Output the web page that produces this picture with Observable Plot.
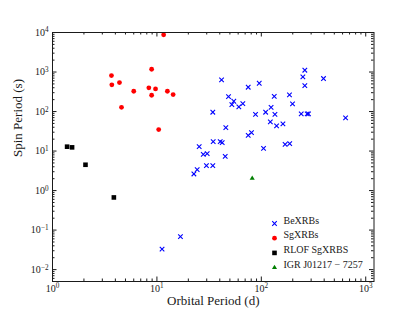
<!DOCTYPE html>
<html><head><meta charset="utf-8">
<script src="https://cdn.jsdelivr.net/npm/d3@7"></script>
<script src="https://cdn.jsdelivr.net/npm/@observablehq/plot@0.6"></script>
<style>body{margin:0;background:#fff} svg{display:block}</style>
</head><body><div id="chart"></div>
<script>
// BeXRBs
const beOrb  = [261, 250, 394, 41.6, 95.5, 261, 74.9, 186, 48.5, 133, 54.5, 52.2, 66.5, 60.9, 199, 124, 34.3, 110, 88, 135, 241, 275, 283, 641, 122, 140, 161, 45.7, 80.5, 74.9, 34.6, 40.4, 42.2, 105, 169, 187, 27.8, 30.3, 45.1, 25.4, 22.6, 24.3, 29.8, 34.3, 16.8, 11.2];
const beSpin = [1110, 754, 684, 632, 520, 454, 412, 264, 239, 242, 182, 150, 159, 131, 156, 128, 96, 96, 85, 85, 87, 87, 87, 69, 54.7, 43.3, 48.6, 39.2, 29.2, 25, 17.3, 17.3, 16.3, 11.7, 14.8, 15.4, 8.26, 8.6, 7.35, 12.9, 2.63, 3.38, 4.27, 4.27, 0.068, 0.033];
// SgXRBs
const sgOrb  = [11.6, 8.9, 3.67, 3.7, 4.38, 6.0, 8.37, 9.7, 8.9, 12.6, 14.3, 4.58, 10.4];
const sgSpin = [8750, 1175, 815, 473, 541, 326, 397, 374, 258, 326, 269, 128, 35];
// RLOF SgXRBs
const rlofOrb  = [1.38, 1.54, 2.07, 3.87];
const rlofSpin = [12.9, 12.4, 4.5, 0.67];
// IGR J01217-7257
const igrOrb  = [81.8];
const igrSpin = [2.04];

const xMajor = [1, 10, 100, 1000];
const yMajor = [0.01, 0.1, 1, 10, 100, 1000, 10000];
const xDomain = [1, 1200];
const yDomain = [0.005, 10000];

const xMinor = [];
for (let k = 0; k <= 3; k++) for (let m = 2; m <= 9; m++) { const v = m * 10 ** k; if (v < xDomain[1]) xMinor.push(v); }
const yMinor = [];
for (let k = -3; k <= 3; k++) for (let m = 2; m <= 9; m++) { const v = +(m * 10 ** k).toPrecision(3); if (v >= yDomain[0] && v < yDomain[1]) yMinor.push(v); }

const toRows = (xs, ys) => xs.map((x, i) => ({x, y: ys[i]}));
const be = toRows(beOrb, beSpin), sg = toRows(sgOrb, sgSpin), rlof = toRows(rlofOrb, rlofSpin), igr = toRows(igrOrb, igrSpin);

const W = 415, H = 312, mL = 52, mR = 41.5, mT = 32, mB = 31;
const fw = W - mL - mR, fh = H - mT - mB;
const font = "'Liberation Serif', 'Times New Roman', serif";
const ink = "#1a1a1a";
const majLen = 4.5, minLen = 2.5;

const styles = {
  be:   {symbol: "times", r: 2.2, stroke: "#0000ff", strokeWidth: 1.1, fill: "none"},
  sg:   {symbol: "circle", r: 2.4, fill: "#ff0000", stroke: "none"},
  rlof: {symbol: "square", r: 2.6, fill: "#000000", stroke: "none"},
  igr:  {symbol: "triangle", r: 1.9, fill: "#007f00", stroke: "none"}
};
const legendItems = [
  {label: "BeXRBs", s: styles.be},
  {label: "SgXRBs", s: styles.sg},
  {label: "RLOF SgXRBS", s: styles.rlof},
  {label: "IGR J01217 \u2212 7257", s: styles.igr}
];
const rowDy = [-58, -43.3, -28.6, -13.9];

const expFmt = d => { const e = Math.round(Math.log10(d)); return "10^" + (e < 0 ? "\u2212" + (-e) : e); };

const tickMarks = [
  Plot.ruleX(xMajor, {x: d => d, insetTop: fh - majLen, stroke: ink}),
  Plot.ruleX(xMajor, {x: d => d, insetBottom: fh - majLen, stroke: ink}),
  Plot.ruleX(xMinor, {x: d => d, insetTop: fh - minLen, stroke: ink}),
  Plot.ruleX(xMinor, {x: d => d, insetBottom: fh - minLen, stroke: ink}),
  Plot.ruleY(yMajor, {y: d => d, insetRight: fw - majLen, stroke: ink}),
  Plot.ruleY(yMajor, {y: d => d, insetLeft: fw - majLen, stroke: ink}),
  Plot.ruleY(yMinor, {y: d => d, insetRight: fw - minLen, stroke: ink}),
  Plot.ruleY(yMinor, {y: d => d, insetLeft: fw - minLen, stroke: ink})
];

const legendMarks = legendItems.flatMap((it, i) => [
  Plot.dot([it], {frameAnchor: "bottom-right", dx: -99.5, dy: rowDy[i], ...it.s}),
  Plot.text([it], {frameAnchor: "bottom-right", dx: -90.5, dy: rowDy[i], text: d => d.label, textAnchor: "start", fontSize: 10, fill: ink})
]);

const svg = Plot.plot({
  width: W, height: H,
  marginLeft: mL, marginRight: mR, marginTop: mT, marginBottom: mB,
  style: {fontFamily: font, fontSize: "10px", background: "#fff", color: ink, overflow: "visible"},
  x: {type: "log", domain: xDomain},
  y: {type: "log", domain: yDomain},
  marks: [
    Plot.dot(be, {x: "x", y: "y", ...styles.be}),
    Plot.dot(sg, {x: "x", y: "y", ...styles.sg}),
    Plot.dot(rlof, {x: "x", y: "y", ...styles.rlof}),
    Plot.dot(igr, {x: "x", y: "y", ...styles.igr}),
    ...tickMarks,
    Plot.frame({stroke: ink, strokeWidth: 1}),
    Plot.axisX(xMajor, {anchor: "bottom", tickSize: 0, tickPadding: 3, tickFormat: expFmt, label: null, fontSize: 10}),
    Plot.axisY(yMajor, {anchor: "left", tickSize: 0, tickPadding: 4, tickFormat: expFmt, label: null, fontSize: 10}),
    Plot.text(["Orbital Period (d)"], {frameAnchor: "bottom", dy: 23.5, text: d => d, fontSize: 13, fill: ink}),
    Plot.text(["Spin Period (s)"], {frameAnchor: "left", dx: -35, rotate: -90, text: d => d, fontSize: 13, fill: ink}),
    ...legendMarks
  ]
});

d3.select(svg).selectAll('g[aria-label="x-axis tick label"] text, g[aria-label="y-axis tick label"] text').each(function () {
  const t = this.textContent; const i = t.indexOf("^"); if (i < 0) return;
  const base = t.slice(0, i), exp = t.slice(i + 1);
  this.textContent = "";
  const sel = d3.select(this);
  sel.append("tspan").text(base);
  sel.append("tspan").attr("dy", "-0.45em").attr("font-size", "0.72em").text(exp);
});

document.getElementById("chart").appendChild(svg);
</script>
</body></html>
